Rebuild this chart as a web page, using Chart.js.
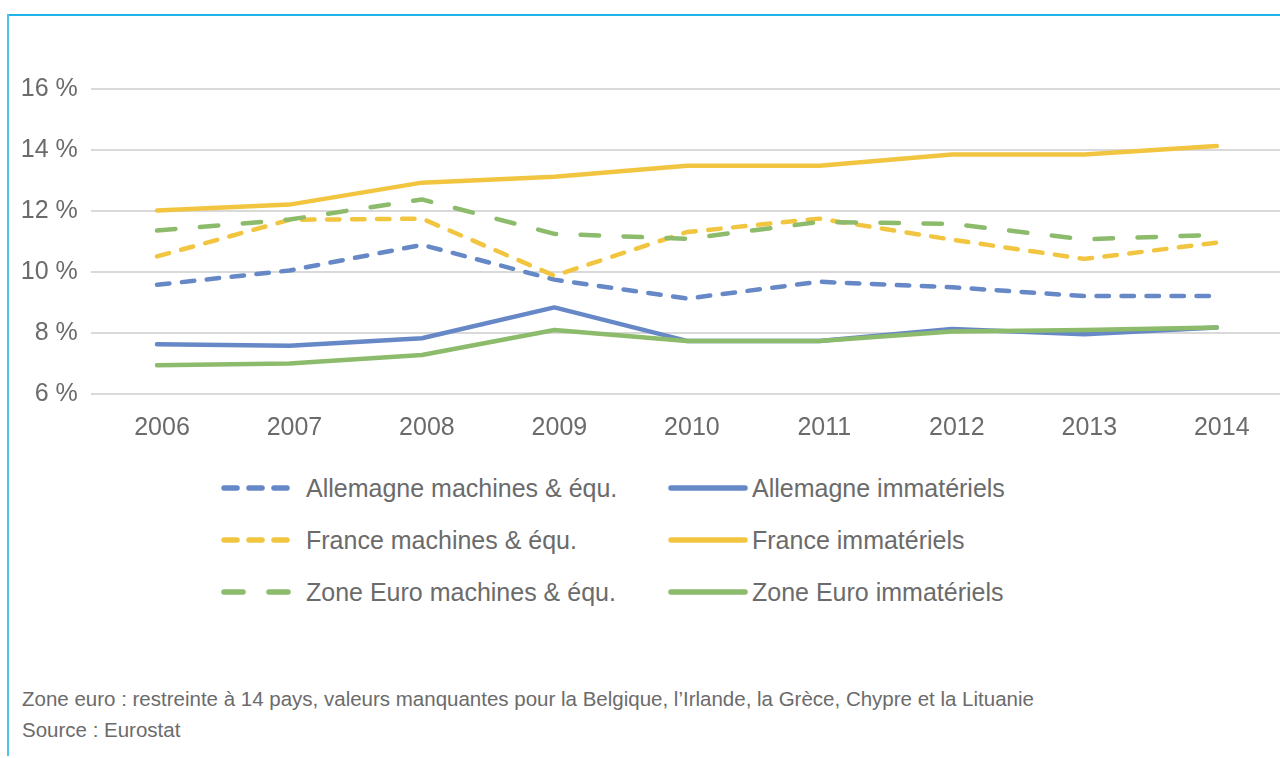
<!DOCTYPE html>
<html lang="fr">
<head>
<meta charset="utf-8">
<title>Investissement</title>
<script src="https://cdn.jsdelivr.net/npm/chart.js@4.4.1/dist/chart.umd.min.js"></script>
<style>
  html, body { margin: 0; padding: 0; background: #fff; overflow: hidden; }
  body { width: 1280px; height: 758px; position: relative; font-family: "Liberation Sans", Arial, sans-serif; color: #6b6b6b; }
  .frame-top { position: absolute; left: 7px; top: 14px; width: 1273px; height: 1.5px; background: #1fb5ea; }
  .frame-left { position: absolute; left: 7px; top: 14px; width: 1.5px; height: 742px; background: #4fc3ee; }
  #wrap { position: absolute; left: 0; top: 0; }
  .legend-col { position: absolute; top: 462px; }
  .legend-col.left { left: 221px; }
  .legend-col.right { left: 668px; }
  .legend-item { display: flex; align-items: center; height: 52px; font-size: 25px; white-space: nowrap; }
  .legend-item svg { display: block; }
  .left .legend-item svg { margin-right: 11px; }
  .right .legend-item svg { margin-right: 4px; }
  .note { position: absolute; left: 22px; font-size: 20.5px; line-height: 24px; }
</style>
</head>
<body>
<div class="frame-top"></div>
<div class="frame-left"></div>
<div id="wrap"><canvas id="chart" width="1290" height="454"></canvas></div>
<div class="legend-col left" id="legend-left"></div>
<div class="legend-col right" id="legend-right"></div>
<div class="note" style="top: 687px;">Zone euro : restreinte à 14 pays, valeurs manquantes pour la Belgique, l’Irlande, la Grèce, Chypre et la Lituanie</div>
<div class="note" style="top: 718px;">Source : Eurostat</div>

<script>
// --- Data ---
const years = ['2006', '2007', '2008', '2009', '2010', '2011', '2012', '2013', '2014'];
const yTicks = [6, 8, 10, 12, 14, 16];

const allemagneMachines = [9.58, 10.05, 10.89, 9.75, 9.13, 9.68, 9.50, 9.21, 9.21];
const allemagneImmat = [7.63, 7.58, 7.83, 8.84, 7.74, 7.74, 8.13, 7.96, 8.18];
const franceMachines = [10.51, 11.71, 11.75, 9.88, 11.31, 11.75, 11.06, 10.43, 10.96];
const franceImmat = [12.02, 12.21, 12.93, 13.12, 13.48, 13.48, 13.85, 13.85, 14.13];
const zoneMachines = [11.36, 11.72, 12.38, 11.25, 11.09, 11.64, 11.58, 11.07, 11.22];
const zoneImmat = [6.94, 7.00, 7.28, 8.10, 7.74, 7.74, 8.05, 8.10, 8.18];

const seriesNames = [
    'Allemagne machines & équ.', 'Allemagne immatériels',
    'France machines & équ.', 'France immatériels',
    'Zone Euro machines & équ.', 'Zone Euro immatériels'
];

const BLUE = '#6688c6';
const YELLOW = '#f2c541';
const GREEN = '#8dbb6c';

const dash = [12.5, 12.5];
const longDash = [18.5, 24.5];

const series = [
    { data: allemagneMachines, color: BLUE, dash: dash, legendDash: '13 12' },
    { data: allemagneImmat, color: BLUE, dash: [], legendDash: null },
    { data: franceMachines, color: YELLOW, dash: dash, legendDash: '13 12' },
    { data: franceImmat, color: YELLOW, dash: [], legendDash: null },
    { data: zoneMachines, color: GREEN, dash: longDash, legendDash: '19 26' },
    { data: zoneImmat, color: GREEN, dash: [], legendDash: null }
];

const tickFont = { family: '"Liberation Sans", Arial, sans-serif', size: 25 };

// --- Chart ---
const ctx = document.getElementById('chart').getContext('2d');
new Chart(ctx, {
    type: 'line',
    data: {
        labels: years,
        datasets: series.map((s, i) => ({
            label: seriesNames[i],
            data: s.data,
            borderColor: s.color,
            backgroundColor: s.color,
            borderWidth: 4.5,
            borderDash: s.dash,
            borderCapStyle: 'round',
            borderJoinStyle: 'round',
            pointRadius: 0,
            tension: 0,
            fill: false,
            order: series.length - i // later series drawn on top, like Excel
        }))
    },
    options: {
        responsive: false,
        animation: false,
        layout: { padding: { top: 89, right: 7, bottom: 0, left: 0 } },
        plugins: {
            legend: { display: false },
            tooltip: { enabled: false }
        },
        scales: {
            x: {
                offset: true,
                grid: { display: false },
                border: { display: false },
                ticks: {
                    color: '#6b6b6b',
                    font: tickFont,
                    padding: 11,
                    labelOffset: 5,
                    maxRotation: 0
                }
            },
            y: {
                min: yTicks[0],
                max: yTicks[yTicks.length - 1],
                afterBuildTicks: (scale) => {
                    scale.ticks = yTicks.map(v => ({ value: v }));
                },
                afterFit: (scale) => { scale.width = 90.75; },
                grid: { color: '#d9d9d9', lineWidth: 2, drawTicks: false },
                border: { display: false },
                ticks: {
                    color: '#6b6b6b',
                    font: tickFont,
                    padding: 13,
                    callback: (v) => v + ' %'
                }
            }
        }
    }
});

// --- Legend (two columns, like the original) ---
const buildLegendItem = (i) => {
    const s = series[i];
    const item = document.createElement('div');
    item.className = 'legend-item';
    const w = i % 2 === 0 ? 74 : 80;
    const dashAttr = s.legendDash ? ` stroke-dasharray="${s.legendDash}"` : '';
    item.innerHTML = `<svg width="${w}" height="10"><line x1="3" y1="5" x2="${w - 3}" y2="5" stroke="${s.color}" stroke-width="5.5" stroke-linecap="round"${dashAttr}/></svg><span>${seriesNames[i]}</span>`;
    return item;
};
const legendLeft = document.getElementById('legend-left');
const legendRight = document.getElementById('legend-right');
series.forEach((s, i) => {
    (i % 2 === 0 ? legendLeft : legendRight).appendChild(buildLegendItem(i));
});
</script>
</body>
</html>
